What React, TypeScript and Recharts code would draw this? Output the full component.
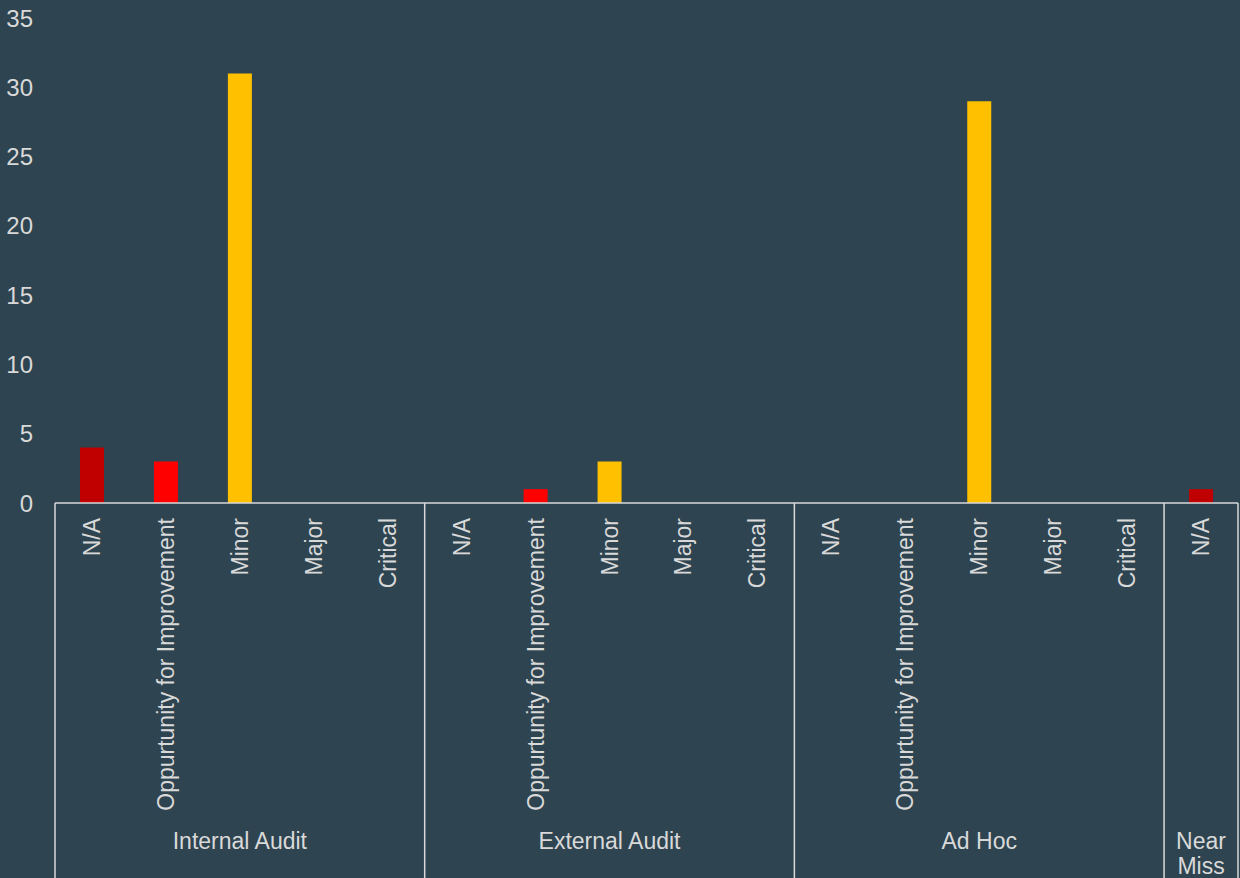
import { BarChart, Bar, XAxis, YAxis, Cell } from "recharts";

const groups = ["Internal Audit", "External Audit", "Ad Hoc", "Near Miss"];
const severities = ["N/A", "Oppurtunity for Improvement", "Minor", "Major", "Critical"];
const groupSeverityCount = [5, 5, 5, 1];

// counts per group, in severity order
const internalAudit = [4, 3, 31, 0, 0];
const externalAudit = [0, 1, 3, 0, 0];
const adHoc = [0, 0, 29, 0, 0];
const nearMiss = [1];

const yTicks = [0, 5, 10, 15, 20, 25, 30, 35];

const severityColors: Record<string, string> = {
  "N/A": "#C00000",
  "Oppurtunity for Improvement": "#FF0000",
  Minor: "#FFC000",
  Major: "#7F6000",
  Critical: "#A50021",
};

const BG = "#2E4450";
const TEXT = "#D9D9D9";
const FONT = "'Liberation Sans', Arial, sans-serif";

const groupValues = [internalAudit, externalAudit, adHoc, nearMiss];

const data = groups.flatMap((g, gi) =>
  severities.slice(0, groupSeverityCount[gi]).map((s, si) => ({
    key: `${g}|${s}`,
    group: g,
    severity: s,
    value: groupValues[gi][si],
  }))
);

function CategoryTick(props: any) {
  const { x, y, payload } = props;
  const i = payload.index;
  const row = data[i];
  const half = payload.offset || 37;
  const isStart = i === 0 || data[i - 1].group !== row.group;
  const isLast = i === data.length - 1;
  const size = data.filter((d) => d.group === row.group).length;
  const groupCenter = x - half + size * half;
  const words = size === 1 ? row.group.split(" ") : [row.group];

  return (
    <g>
      <text
        x={x}
        y={y + 15}
        transform={`rotate(-90, ${x}, ${y + 15})`}
        textAnchor="end"
        dominantBaseline="central"
        fill={TEXT}
        fontSize={23}
        fontFamily={FONT}
      >
        {row.severity}
      </text>
      {isStart && (
        <>
          <line x1={x - half} y1={y} x2={x - half} y2={y + 380} stroke={TEXT} strokeWidth={1.5} />
          {words.map((w, wi) => (
            <text
              key={w}
              x={groupCenter}
              y={y + 338 + wi * 25}
              textAnchor="middle"
              dominantBaseline="central"
              fill={TEXT}
              fontSize={23}
              fontFamily={FONT}
            >
              {w}
            </text>
          ))}
        </>
      )}
      {isLast && (
        <line x1={x + half} y1={y} x2={x + half} y2={y + 380} stroke={TEXT} strokeWidth={1.5} />
      )}
    </g>
  );
}

export default function App() {
  return (
    <div style={{ position: "absolute", left: 0, top: 0, width: 1240, height: 878, background: BG }}>
      <BarChart
        width={1240}
        height={878}
        data={data}
        margin={{ top: 18, right: 2, left: 0, bottom: 0 }}
        barSize={24}
      >
        <YAxis
          domain={[0, 35]}
          ticks={yTicks}
          width={55}
          axisLine={false}
          tickLine={false}
          tickSize={0}
          tickMargin={22}
          tick={{ fill: TEXT, fontSize: 24, fontFamily: FONT }}
        />
        <XAxis
          dataKey="key"
          height={375}
          interval={0}
          tickLine={false}
          tickSize={0}
          tickMargin={0}
          axisLine={{ stroke: TEXT, strokeWidth: 1.5 }}
          tick={<CategoryTick />}
        />
        <Bar dataKey="value" isAnimationActive={false}>
          {data.map((d) => (
            <Cell key={d.key} fill={severityColors[d.severity]} />
          ))}
        </Bar>
      </BarChart>
    </div>
  );
}
